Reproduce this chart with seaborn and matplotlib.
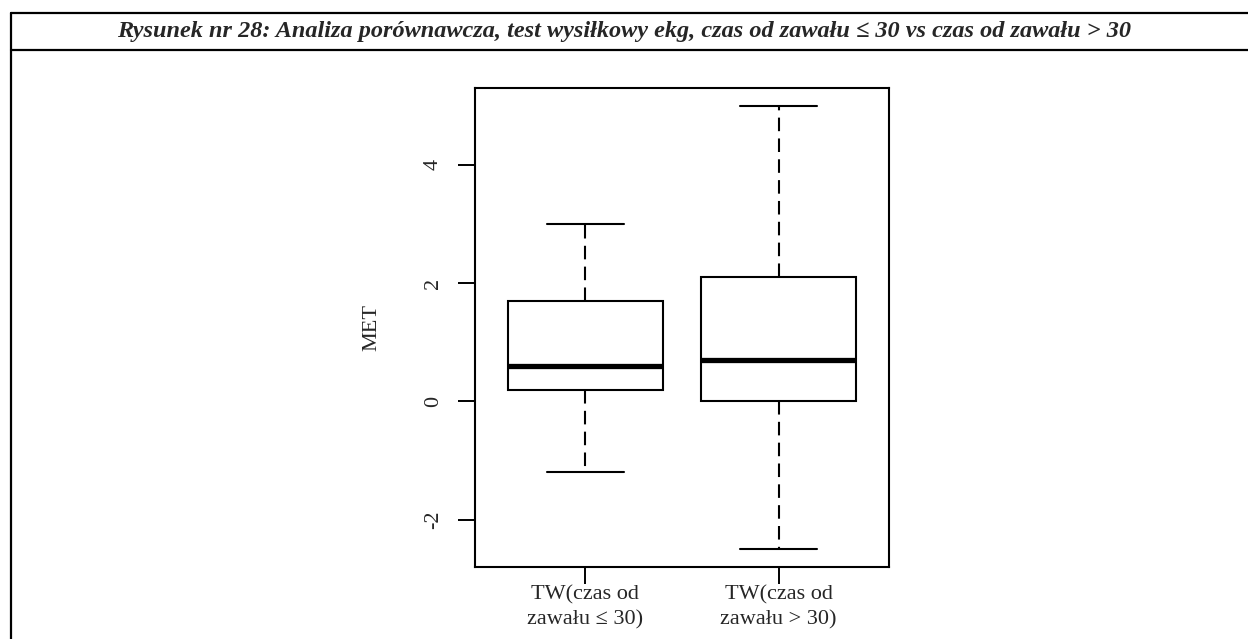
import matplotlib
matplotlib.use("Agg")
import matplotlib.pyplot as plt
from matplotlib.lines import Line2D
import seaborn as sns
import pandas as pd

# Data (five-number summaries)
categories = ["TW(czas od\nzawału ≤ 30)", "TW(czas od\nzawału > 30)"]
group1_values = [-1.2, 0.2, 0.6, 1.7, 3.0]
group2_values = [-2.5, 0.0, 0.7, 2.1, 5.0]
y_ticks = [-2, 0, 2, 4]
title = "Rysunek nr 28: Analiza porównawcza, test wysiłkowy ekg, czas od zawału ≤ 30 vs czas od zawału > 30"
y_label = "MET"

df = pd.DataFrame({
    "group": [categories[0]] * len(group1_values) + [categories[1]] * len(group2_values),
    "MET": group1_values + group2_values,
})

sns.set_theme(style="white")
plt.rcParams["font.family"] = ["Liberation Serif", "DejaVu Serif"]

fig = plt.figure(figsize=(12.48, 6.39), dpi=100)
ax = fig.add_axes([475 / 1248, 1 - 567 / 639, (889 - 475) / 1248, (567 - 88) / 639])

sns.boxplot(
    data=df, x="group", y="MET", ax=ax,
    order=categories,
    color="white", saturation=1, linecolor="black", linewidth=1.5,
    width=0.8, whis=(0, 100), showfliers=False,
    medianprops=dict(linewidth=3.8, color="black"),
    whiskerprops=dict(linestyle=(0, (6.5, 3.5)), color="black"),
    capprops=dict(color="black"),
    boxprops=dict(edgecolor="black"),
)

ax.set_xlim(-0.57, 1.57)
ax.set_ylim(-2.8, 5.3)
ax.set_yticks(y_ticks)
ax.set_yticklabels([str(t) for t in y_ticks], rotation=90, va="center", fontsize=16)
ax.set_xticks([0, 1])
ax.set_xticklabels(categories, fontsize=16, linespacing=1.45)
ax.tick_params(axis="both", length=12, width=1.4, color="black", direction="out",
               left=True, bottom=True)
ax.tick_params(axis="x", pad=1)
ax.tick_params(axis="y", pad=11)
ax.set_xlabel("")
ax.set_ylabel(y_label, fontsize=16, labelpad=31)
for s in ax.spines.values():
    s.set_visible(True)
    s.set_color("black")
    s.set_linewidth(1.5)

# Frame and title band
fig.add_artist(Line2D([11 / 1248, 1], [1 - 12.5 / 639, 1 - 12.5 / 639], color="black", lw=1.6, transform=fig.transFigure))
fig.add_artist(Line2D([11 / 1248, 1], [1 - 49.5 / 639, 1 - 49.5 / 639], color="black", lw=1.6, transform=fig.transFigure))
fig.add_artist(Line2D([11 / 1248, 11 / 1248], [0, 1 - 12.5 / 639], color="black", lw=1.6, transform=fig.transFigure))
fig.text(624 / 1248, 1 - 31 / 639, title, ha="center", va="center",
         fontsize=17.5, fontweight="bold", fontstyle="italic")

fig.savefig("out.png", dpi=100, facecolor="white")
